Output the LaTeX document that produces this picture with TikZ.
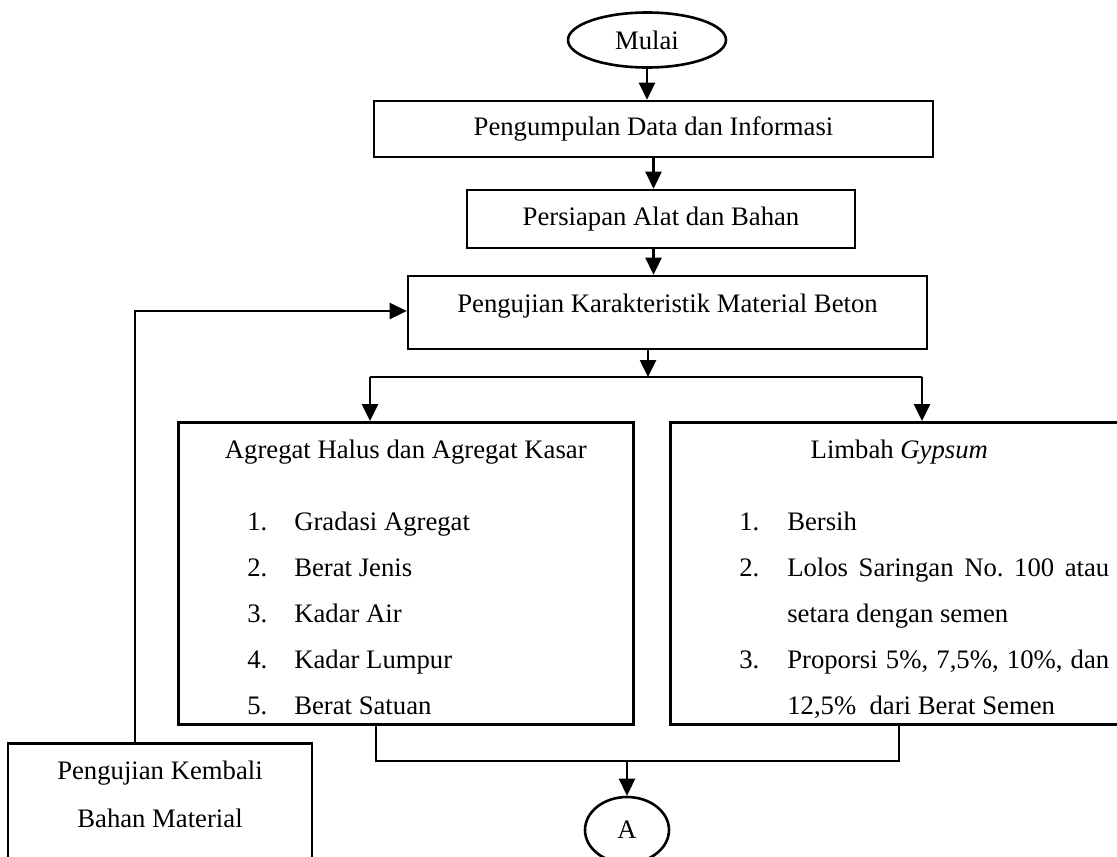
\documentclass[tikz,border=0pt]{standalone}
\usepackage{fontspec}
\setmainfont{Liberation Serif}
\usetikzlibrary{arrows.meta,shapes.geometric}
\begin{document}
\begin{tikzpicture}[x=1pt,y=-1pt,
  every node/.style={font=\fontsize{26.7pt}{46pt}\selectfont},
  box/.style={draw, line width=2.6pt, rectangle, inner sep=0pt},
  term/.style={draw, line width=2.6pt, ellipse, inner sep=0pt},
  conn/.style={line width=2.6pt},
  arr/.style={conn, -{Triangle[width=16pt,length=17pt]}}]
\useasboundingbox (0,0) rectangle (1117,857);
\frenchspacing
% nodes
\node[term, minimum width=158pt, minimum height=55pt] (mulai) at (647,40) {Mulai};
\node[box, minimum width=559pt, minimum height=56pt] (b1) at (653.5,129) {Pengumpulan Data dan Informasi};
\node[box, minimum width=388pt, minimum height=58pt] (b2) at (661,219) {Persiapan Alat dan Bahan};
\node[box, minimum width=519pt, minimum height=73pt, text height=20pt, text depth=20pt] (b3) at (667.5,312.5) {Pengujian Karakteristik Material Beton};
\node[box, anchor=north west] (b4) at (177,421) {\begin{minipage}[c][302pt][t]{455pt}\fontsize{26.7pt}{46pt}\selectfont
\centering\rule{0pt}{36pt}Agregat Halus dan Agregat Kasar\par\vspace{26pt}
\raggedright
\hspace*{69pt}\makebox[47pt][l]{1.}Gradasi Agregat\par
\hspace*{69pt}\makebox[47pt][l]{2.}Berat Jenis\par
\hspace*{69pt}\makebox[47pt][l]{3.}Kadar Air\par
\hspace*{69pt}\makebox[47pt][l]{4.}Kadar Lumpur\par
\hspace*{69pt}\makebox[47pt][l]{5.}Berat Satuan\par
\end{minipage}};
\node[box, anchor=north west] (b5) at (669,421) {\begin{minipage}[c][302pt][t]{458pt}\fontsize{26.7pt}{46pt}\selectfont
\frenchspacing\hyphenpenalty=10000 \tolerance=2000
\centering\rule{0pt}{36pt}Limbah \textit{Gypsum}\par\vspace{26pt}
\leftskip=0pt \rightskip=19pt \parfillskip=0pt plus 1fil
\noindent\hspace*{69pt}\makebox[48pt][l]{1.}Bersih\par
\hangindent=117pt \hangafter=1 \noindent\hspace*{69pt}\makebox[48pt][l]{2.}Lolos Saringan No. 100 atau setara dengan semen\par
\hangindent=117pt \hangafter=1 \noindent\hspace*{69pt}\makebox[48pt][l]{3.}Proporsi 5\%, 7,5\%, 10\%, dan 12,5\%~ dari Berat Semen\par
\end{minipage}};
\node[box, anchor=north] (b6) at (160,742) {\begin{minipage}[c][160pt][t]{304pt}\fontsize{26.7pt}{48pt}\selectfont
\centering\rule{0pt}{36pt}Pengujian Kembali\\ Bahan Material\par
\end{minipage}};
\node[term, minimum width=84pt, minimum height=66pt] (A) at (627,830) {A};
% junction points
\coordinate (j) at (648,377);
\coordinate (jl) at (370,377);
\coordinate (jr) at (922,377);
\coordinate (kl) at (376,761);
\coordinate (kr) at (899,761);
\coordinate (km) at (627,761);
\coordinate (fb) at (135,311);
% connectors
\draw[arr] (mulai.south) -- (mulai.south |- b1.north);
\draw[arr] (b1.south) -- (b1.south |- b2.north);
\draw[arr] (b1.south |- b2.south) -- (b1.south |- b3.north);
\draw[arr] (j |- b3.south) -- (j);
\draw[conn] (jl) -- (jr);
\draw[arr] (jl) -- (jl |- b4.north);
\draw[arr] (jr) -- (jr |- b5.north);
\draw[conn] (kl |- b4.south) -- (kl) -- (kr) -- (kr |- b5.south);
\draw[arr] (km) -- (A.north);
\draw[arr] (b6.north -| fb) -- (fb) -- (fb -| b3.west);
\end{tikzpicture}
\end{document}
